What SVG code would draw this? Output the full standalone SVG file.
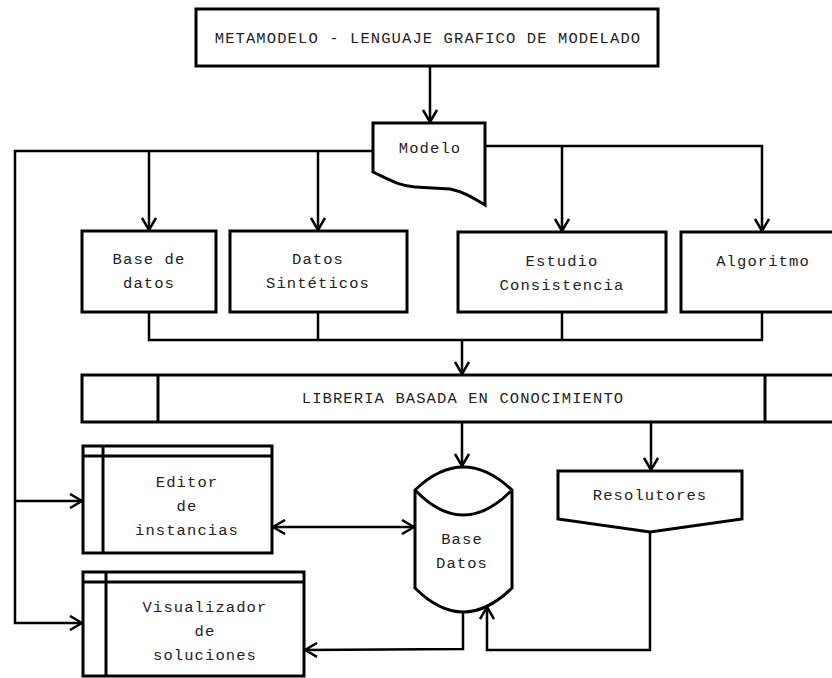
<svg xmlns="http://www.w3.org/2000/svg" width="832" height="678" viewBox="0 0 832 678">
<style>
.s{fill:#fff;stroke:#000;stroke-width:3}
.l{fill:none;stroke:#000;stroke-width:3}
.c{fill:none;stroke:#000;stroke-width:2.5}
text{font-family:"Liberation Mono","DejaVu Sans Mono",monospace;font-size:15.5px;letter-spacing:1.1px;fill:#222;text-anchor:middle}
</style>
<defs>
<marker id="a" viewBox="0 0 14 16" refX="13" refY="8" markerWidth="14" markerHeight="16" markerUnits="userSpaceOnUse" orient="auto-start-reverse">
<path d="M1,1 L13,8 L1,15" fill="none" stroke="#000" stroke-width="2.5"/>
</marker>
</defs>
<rect width="832" height="678" fill="#fff"/>
<g id="connectors">
<path class="c" d="M430,66 V122" marker-end="url(#a)"/>
<path class="c" d="M373,151 H15 V623 H82" marker-end="url(#a)"/>
<path class="c" d="M15,501 H82" marker-end="url(#a)"/>
<path class="c" d="M149,151 V230" marker-end="url(#a)"/>
<path class="c" d="M318,151 V230" marker-end="url(#a)"/>
<path class="c" d="M485,146 H762 V231" marker-end="url(#a)"/>
<path class="c" d="M562,146 V231" marker-end="url(#a)"/>
<path class="c" d="M149,312 V340 H762 V312 M318,312 V340 M562,312 V340"/>
<path class="c" d="M462,340 V374" marker-end="url(#a)"/>
<path class="c" d="M462,422 V466" marker-end="url(#a)"/>
<path class="c" d="M651,422 V470" marker-end="url(#a)"/>
<path class="c" d="M273,527 H414" marker-start="url(#a)" marker-end="url(#a)"/>
<path class="c" d="M463,612 V649 L305,650" marker-end="url(#a)"/>
<path class="c" d="M650,532 V650 H487 V607" marker-end="url(#a)"/>
</g>
<g id="metamodelo">
<rect class="s" x="196" y="9" width="462" height="57"/>
<text x="428" y="43">METAMODELO - LENGUAJE GRAFICO DE MODELADO</text>
</g>
<g id="modelo">
<path class="s" d="M373,123 H485 V205 C475,199 465,192 450,189 L415,187 C400,186 390,180 373,172 Z"/>
<text x="430" y="153">Modelo</text>
</g>
<g id="base-de-datos">
<rect class="s" x="82" y="231" width="134" height="81"/>
<text x="149" y="264">Base de</text>
<text x="149" y="288">datos</text>
</g>
<g id="datos-sinteticos">
<rect class="s" x="230" y="231" width="177" height="81"/>
<text x="318" y="264">Datos</text>
<text x="318" y="288">Sintéticos</text>
</g>
<g id="estudio-consistencia">
<rect class="s" x="458" y="232" width="208" height="80"/>
<text x="562" y="266">Estudio</text>
<text x="562" y="290">Consistencia</text>
</g>
<g id="algoritmo">
<rect class="s" x="681" y="232" width="170" height="80"/>
<text x="763" y="266">Algoritmo</text>
</g>
<g id="libreria">
<rect class="s" x="82" y="375" width="770" height="47"/>
<path class="l" d="M158,375 V422 M765,375 V422"/>
<text x="463" y="403">LIBRERIA BASADA EN CONOCIMIENTO</text>
</g>
<g id="editor">
<rect class="s" x="83" y="446" width="189" height="107"/>
<path class="l" d="M83,456 H272 M103,446 V553"/>
<text x="187" y="487">Editor</text>
<text x="187" y="511">de</text>
<text x="187" y="535">instancias</text>
</g>
<g id="visualizador">
<rect class="s" x="83" y="572" width="221" height="104"/>
<path class="l" d="M83,582 H304 M106,572 V676"/>
<text x="205" y="612">Visualizador</text>
<text x="205" y="636">de</text>
<text x="205" y="660">soluciones</text>
</g>
<g id="base-datos">
<path class="s" d="M415,490 Q463,444 512,490 L512,588 Q463,636 415,588 Z"/>
<path class="l" d="M415,490 Q463,540 512,490"/>
<text x="462" y="544">Base</text>
<text x="462" y="568">Datos</text>
</g>
<g id="resolutores">
<path class="s" d="M558,471 H742 V519 L650,532 L558,519 Z"/>
<text x="650" y="500">Resolutores</text>
</g>
</svg>
